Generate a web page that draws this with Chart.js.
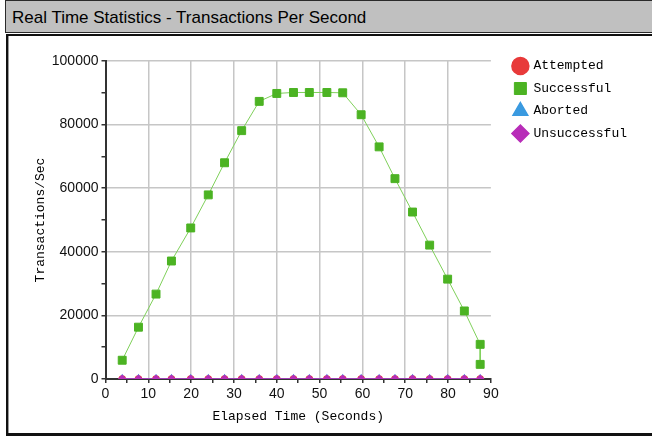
<!DOCTYPE html>
<html>
<head>
<meta charset="utf-8">
<script src="https://cdn.jsdelivr.net/npm/chart.js@4.4.1/dist/chart.umd.min.js"></script>
<style>
  html, body { margin:0; padding:0; background:#fff; }
  body { width:652px; height:437px; position:relative; overflow:hidden; }
  #titlebar {
    position:absolute; left:5px; top:0; width:700px; height:24px;
    padding:7px 0 0 6px; line-height:25px;
    background:#c0c0c0; border:1px solid #2a2a2a; border-right:none;
    font:17px "Liberation Sans", Arial, sans-serif; color:#000; white-space:nowrap;
  }
  #panel {
    position:absolute; left:6px; top:34px; width:700px; height:397px;
    background:#fff; border-top:2px solid #111; border-left:2px solid #111; border-bottom:3px solid #111;
    box-shadow: inset 1px 0 0 #9a9a9a;
  }
  #tps { position:absolute; left:0; top:0; }
</style>
</head>
<body>
<div id="titlebar">Real Time Statistics - Transactions Per Second</div>
<div id="panel"><canvas id="tps" width="644" height="396"></canvas></div>
<script>
// ── 데이터 ───────────────────────────────────────────
const seriesNames  = ["Attempted", "Successful", "Aborted", "Unsuccessful"];
const elapsed      = [3.9, 7.7, 11.8, 15.4, 19.9, 24.0, 27.8, 31.8, 35.9, 40.0, 43.9,
                      47.6, 51.7, 55.4, 59.7, 63.9, 67.6, 71.7, 75.7, 79.9, 83.8, 87.5];
const successTimes = [3.9, 7.7, 11.8, 15.4, 19.9, 24.0, 27.8, 31.8, 35.9, 40.0, 43.9,
                      47.6, 51.7, 55.4, 59.7, 63.9, 67.6, 71.7, 75.7, 79.9, 83.8, 87.5, 87.5];
const successful   = [5900, 16300, 26700, 37100, 47500, 57900, 68000, 78100, 87300, 89800, 90100,
                      90100, 90100, 90000, 83100, 73000, 63000, 52500, 42100, 31400, 21400, 10900, 4600];
const attempted    = [0,0,0,0,0,0,0,0,0,0,0,0,0,0,0,0,0,0,0,0,0,0];
const aborted      = [0,0,0,0,0,0,0,0,0,0,0,0,0,0,0,0,0,0,0,0,0,0];
const unsuccessful = [0,0,0,0,0,0,0,0,0,0,0,0,0,0,0,0,0,0,0,0,0,0];

const X_MAX = 90, X_STEP = 5, X_LABEL_STEP = 10;
const Y_MAX = 100000, Y_STEP = 10000, Y_LABEL_STEP = 20000;

// ── 스타일 ───────────────────────────────────────────
const MONO  = "'Liberation Mono', 'DejaVu Sans Mono', monospace";
const SANS  = "'Liberation Sans', Arial, sans-serif";
const GRID  = "#c6c6c6";
const AXIS  = "#333";

const pts = (xs, ys) => ys.map((y, i) => ({ x: xs[i], y }));

const datasets = [
  { label: seriesNames[0], data: pts(elapsed, attempted), order: 3,
    borderColor: "#e83a3a", backgroundColor: "#e83a3a", borderWidth: 1.5,
    pointStyle: "circle", pointRadius: 3 },
  { label: seriesNames[1], data: pts(successTimes, successful), order: 2,
    borderColor: "#7fd05a", backgroundColor: "#4cb323", borderWidth: 1,
    pointBackgroundColor: "#4cb323", pointBorderColor: "#4cb323",
    pointStyle: "rect", pointRadius: 5.6 },
  { label: seriesNames[2], data: pts(elapsed, aborted), order: 1,
    borderColor: "#3a9ae0", backgroundColor: "#3a9ae0", borderWidth: 1.5,
    pointStyle: "triangle", pointRadius: 3.8 },
  { label: seriesNames[3], data: pts(elapsed, unsuccessful), order: 0,
    borderColor: "#b82db8", backgroundColor: "#b82db8", borderWidth: 1.5,
    pointStyle: "rectRot", pointRadius: 3.4 },
];

// 빈 축: 차트 영역과 범례 사이 간격용
const spacer = (pos, size) => ({
  type: "linear", position: pos, display: true,
  grid: { display: false }, ticks: { display: false }, border: { display: false },
  afterFit: (s) => { if (pos === "top") s.height = size; else s.width = size; },
});

new Chart(document.getElementById("tps"), {
  type: "line",
  data: { datasets },
  options: {
    responsive: false, animation: false,
    layout: { padding: { top: 14, right: 15, bottom: 0, left: 0 } },
    scales: {
      x: {
        type: "linear", min: 0, max: X_MAX,
        afterFit: (s) => { s.height = 53; },
        ticks: { stepSize: X_STEP, padding: 3, color: "#111", font: { family: SANS, size: 14 },
                 maxRotation: 0, autoSkip: false,
                 callback: (v) => (v % X_LABEL_STEP === 0 ? v : "") },
        grid: { color: (c) => (c.tick && c.tick.value % X_LABEL_STEP === 0 && c.tick.value < X_MAX ? GRID : "rgba(0,0,0,0)"),
                lineWidth: 1.5, tickColor: AXIS, tickLength: 4, tickWidth: 1.5 },
        border: { color: AXIS, width: 2 },
        title: { display: true, text: "Elapsed Time (Seconds)", color: "#000",
                 font: { family: MONO, size: 13 }, padding: { top: 0, bottom: 7.5 } },
      },
      y: {
        type: "linear", min: 0, max: Y_MAX,
        afterFit: (s) => { s.width = 97.5; },
        ticks: { stepSize: Y_STEP, padding: 3, color: "#111", font: { family: SANS, size: 14 },
                 callback: (v) => (v % Y_LABEL_STEP === 0 ? v : "") },
        grid: { color: (c) => (c.tick && c.tick.value % Y_LABEL_STEP === 0 ? GRID : "rgba(0,0,0,0)"),
                lineWidth: 1.5, tickColor: AXIS, tickLength: 4, tickWidth: 1.5 },
        border: { color: AXIS, width: 2 },
        title: { display: true, text: "Transactions/Sec", color: "#000",
                 font: { family: MONO, size: 13 }, padding: { top: 24.5, bottom: 0 } },
      },
      topGap:   spacer("top", 11),
      rightGap: spacer("right", 13.5),
    },
    plugins: {
      legend: {
        position: "right", align: "start", maxWidth: 140,
        labels: {
          usePointStyle: true, boxWidth: 13, boxHeight: 12, padding: 9.5,
          color: "#000", font: { family: MONO, size: 13 },
          sort: (a, b) => a.datasetIndex - b.datasetIndex,
        },
      },
      tooltip: { enabled: false },
    },
  },
});
</script>
</body>
</html>
